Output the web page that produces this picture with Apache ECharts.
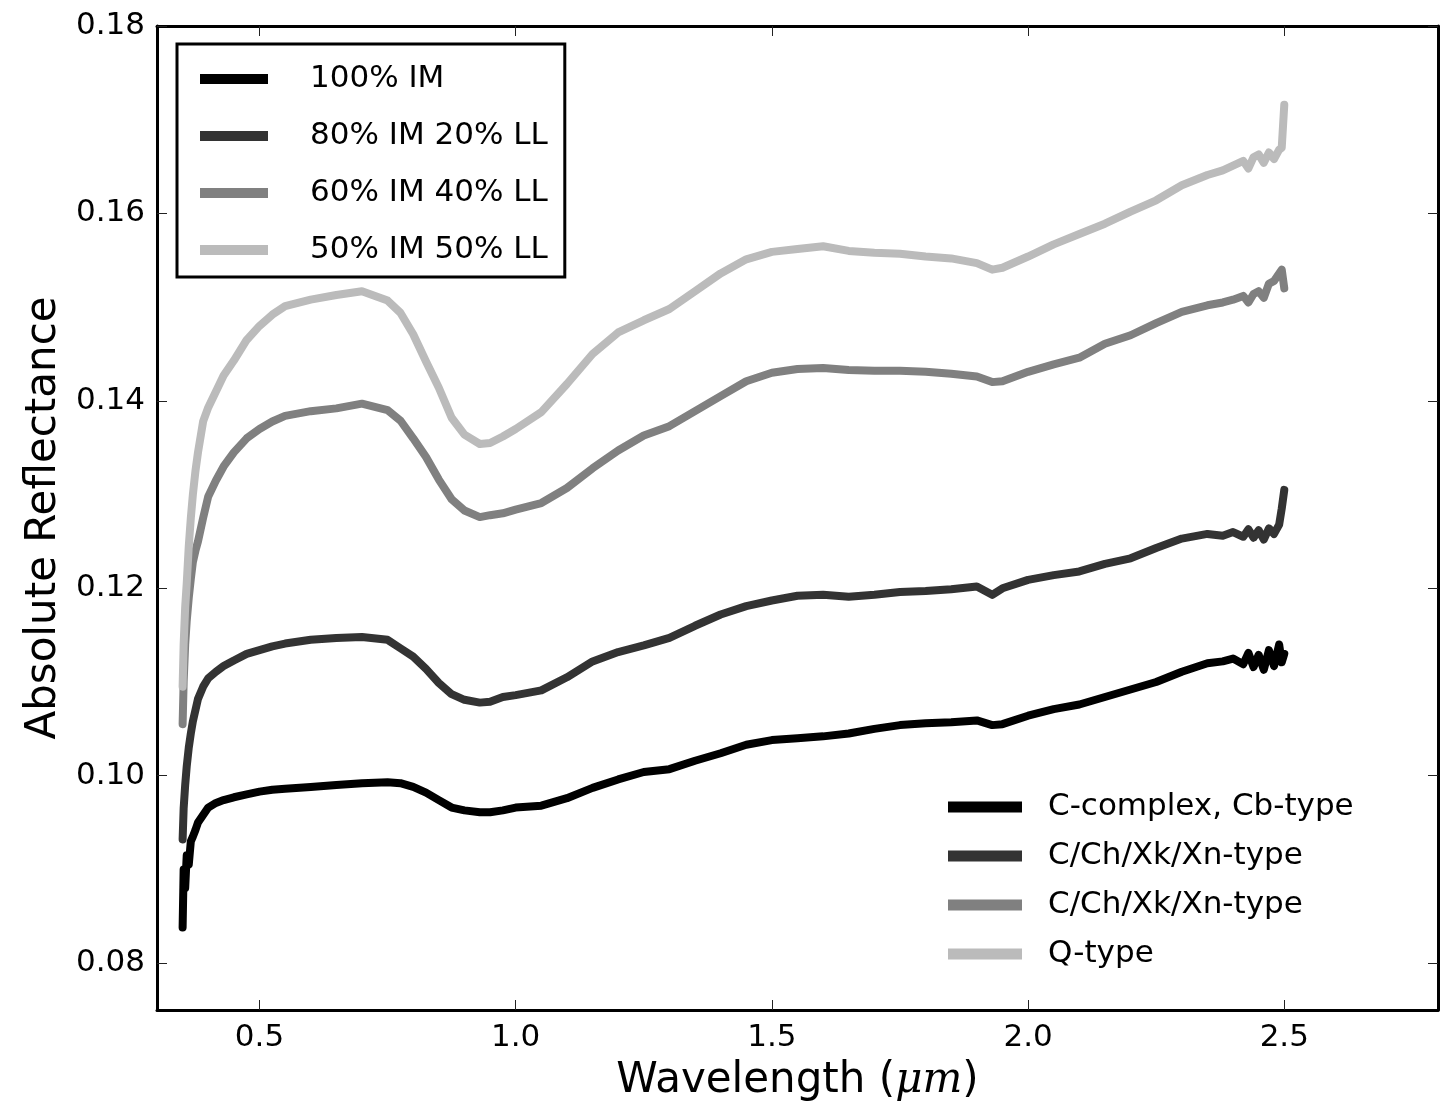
<!DOCTYPE html>
<html>
<head>
<meta charset="utf-8">
<script src="https://cdn.jsdelivr.net/npm/echarts@6/dist/echarts.min.js"></script>
<style>
  html, body { margin: 0; padding: 0; background: #fff; }
  #chart { width: 1449px; height: 1107px; }
</style>
</head>
<body>
<div id="chart"></div>
<script>
// wavelength (um)
var wavelength = [
  0.350, 0.352, 0.355, 0.358, 0.362, 0.366, 0.370, 0.375, 0.380, 0.390,
  0.400, 0.415, 0.430, 0.450, 0.475, 0.500, 0.525, 0.550, 0.600, 0.650,
  0.700, 0.750, 0.775, 0.800, 0.825, 0.850, 0.875, 0.900, 0.930, 0.950,
  0.975, 1.000, 1.050, 1.100, 1.150, 1.200, 1.250, 1.300, 1.350, 1.400,
  1.450, 1.500, 1.550, 1.600, 1.650, 1.700, 1.750, 1.800, 1.850, 1.900,
  1.930, 1.950, 2.000, 2.050, 2.100, 2.150, 2.200, 2.250, 2.300, 2.350,
  2.380, 2.400, 2.420, 2.430, 2.440, 2.450, 2.460, 2.470, 2.480, 2.490,
  2.495, 2.500
];
// 100% IM
var im100 = [
  0.0838, 0.0900, 0.0880, 0.0915, 0.0905, 0.0930, 0.0935, 0.0942, 0.0950, 0.0958,
  0.0966, 0.0971, 0.0974, 0.0977, 0.0980, 0.0983, 0.0985, 0.0986, 0.0988, 0.0990,
  0.0992, 0.0993, 0.0992, 0.0988, 0.0982, 0.0974, 0.0966, 0.0963, 0.0961, 0.0961,
  0.0963, 0.0966, 0.0968, 0.0976, 0.0987, 0.0996, 0.1004, 0.1007, 0.1016, 0.1024,
  0.1033, 0.1038, 0.1040, 0.1042, 0.1045, 0.1050, 0.1054, 0.1056, 0.1057, 0.1059,
  0.1054, 0.1055, 0.1064, 0.1071, 0.1076, 0.1084, 0.1092, 0.1100, 0.1111, 0.1120,
  0.1122, 0.1125, 0.1119, 0.1131, 0.1116, 0.1129, 0.1113, 0.1134, 0.1117, 0.1140,
  0.1121, 0.1130
];
// 80% IM 20% LL
var im80ll20 = [
  0.0932, 0.0965, 0.0990, 0.1010, 0.1030, 0.1045, 0.1058, 0.1070, 0.1082, 0.1095,
  0.1104, 0.1111, 0.1117, 0.1123, 0.1130, 0.1134, 0.1138, 0.1141, 0.1145, 0.1147,
  0.1148, 0.1145, 0.1136, 0.1127, 0.1114, 0.1099, 0.1087, 0.1081, 0.1078, 0.1079,
  0.1084, 0.1086, 0.1091, 0.1105, 0.1122, 0.1132, 0.1139, 0.1147, 0.1160, 0.1172,
  0.1181, 0.1187, 0.1192, 0.1193, 0.1191, 0.1193, 0.1196, 0.1197, 0.1199, 0.1202,
  0.1193, 0.1200, 0.1209, 0.1214, 0.1218, 0.1226, 0.1232, 0.1243, 0.1253, 0.1258,
  0.1256, 0.1260, 0.1255, 0.1263, 0.1254, 0.1262, 0.1252, 0.1264, 0.1258, 0.1268,
  0.1285, 0.1305
];
// 60% IM 40% LL
var im60ll40 = [
  0.1055, 0.1100, 0.1140, 0.1165, 0.1190, 0.1210, 0.1228, 0.1240, 0.1250, 0.1275,
  0.1298, 0.1315, 0.1330, 0.1345, 0.1360, 0.1370, 0.1378, 0.1384, 0.1389, 0.1392,
  0.1397, 0.1390, 0.1379, 0.1360, 0.1340, 0.1316, 0.1295, 0.1283, 0.1276, 0.1278,
  0.1280, 0.1284, 0.1291, 0.1307, 0.1328, 0.1347, 0.1363, 0.1373, 0.1389, 0.1405,
  0.1421, 0.1430, 0.1434, 0.1435, 0.1433, 0.1432, 0.1432, 0.1431, 0.1429, 0.1426,
  0.1420, 0.1421, 0.1431, 0.1439, 0.1446, 0.1461, 0.1470, 0.1483, 0.1495, 0.1502,
  0.1505, 0.1508, 0.1512, 0.1505, 0.1514, 0.1517, 0.1510, 0.1525, 0.1528, 0.1536,
  0.1540, 0.1520
];
// 50% IM 50% LL
var im50ll50 = [
  0.1095, 0.1140, 0.1180, 0.1205, 0.1245, 0.1275, 0.1300, 0.1325, 0.1345, 0.1378,
  0.1393, 0.1410, 0.1427, 0.1443, 0.1465, 0.1480, 0.1492, 0.1501, 0.1508, 0.1513,
  0.1517, 0.1507, 0.1494, 0.1471, 0.1442, 0.1414, 0.1382, 0.1364, 0.1354, 0.1355,
  0.1362, 0.1370, 0.1388, 0.1418, 0.1450, 0.1473, 0.1486, 0.1498, 0.1517, 0.1536,
  0.1551, 0.1559, 0.1562, 0.1565, 0.1560, 0.1558, 0.1557, 0.1554, 0.1552, 0.1547,
  0.1540, 0.1542, 0.1554, 0.1567, 0.1578, 0.1589, 0.1602, 0.1614, 0.1630, 0.1641,
  0.1646, 0.1651, 0.1656, 0.1648, 0.1660, 0.1663, 0.1654, 0.1665, 0.1658, 0.1668,
  0.1670, 0.1716
];

var mixNames = ['100% IM', '80% IM 20% LL', '60% IM 40% LL', '50% IM 50% LL'];
// second label is repeated in the figure; trailing nbsp keeps the names apart
var typeNames = ['C-complex, Cb-type', 'C/Ch/Xk/Xn-type', 'C/Ch/Xk/Xn-type\u00a0', 'Q-type'];
var colors = ['#000000', '#333333', '#808080', '#bbbbbb'];
var xTicks = [0.5, 1.0, 1.5, 2.0, 2.5];
var yTicks = [0.08, 0.10, 0.12, 0.14, 0.16, 0.18];

var font = 'DejaVu Sans';
var spectra = [im100, im80ll20, im60ll40, im50ll50];

var series = [];
spectra.forEach(function (vals, i) {
  series.push({
    name: mixNames[i],
    type: 'line',
    data: wavelength.map(function (w, k) { return [w, vals[k]]; }),
    symbol: 'none',
    itemStyle: { color: colors[i] },
    lineStyle: { color: colors[i], width: 8, join: 'round', cap: 'round' },
    z: 2 + i
  });
});
typeNames.forEach(function (n, i) {
  series.push({ name: n, type: 'line', data: [], symbol: 'none', itemStyle: { color: colors[i] }, lineStyle: { color: colors[i] } });
});

function frameAxis(pos, min, max, ticks, showLabel, fmt) {
  return {
    type: 'value',
    position: pos,
    min: min,
    max: max,
    splitLine: { show: false },
    axisLine: { show: true, onZero: false, lineStyle: { color: '#000', width: 3 } },
    axisTick: { show: true, inside: true, length: 10, customValues: ticks, lineStyle: { color: '#222', width: 1 } },
    axisLabel: { show: showLabel, customValues: ticks, formatter: fmt, fontFamily: font, fontSize: 31, color: '#000', margin: 12 }
  };
}

var xMain = frameAxis('bottom', 0.3, 2.8, xTicks, true, function (v) { return v.toFixed(1); });
xMain.name = 'Wavelength ({i|μm})';
xMain.nameLocation = 'middle';
xMain.nameGap = 50;
xMain.nameTextStyle = { fontFamily: font, fontSize: 42, color: '#000', rich: { i: { fontFamily: 'DejaVu Serif', fontStyle: 'italic', fontSize: 42 } } };

var yMain = frameAxis('left', 0.075, 0.18, yTicks, true, function (v) { return v.toFixed(2); });
yMain.name = 'Absolute Reflectance';
yMain.nameLocation = 'middle';
yMain.nameGap = 92;
yMain.nameTextStyle = { fontFamily: font, fontSize: 42, color: '#000' };

var option = {
  animation: false,
  backgroundColor: '#fff',
  grid: { left: 157, right: 11, top: 26, bottom: 92, containLabel: false },
  xAxis: [xMain, frameAxis('top', 0.3, 2.8, xTicks, false)],
  yAxis: [yMain, frameAxis('right', 0.075, 0.18, yTicks, false)],
  legend: [
    {
      data: mixNames,
      orient: 'vertical',
      left: 177,
      top: 44,
      padding: [19, 17, 11, 23],
      borderColor: '#000',
      borderWidth: 3,
      backgroundColor: '#fff',
      icon: 'rect',
      itemWidth: 68,
      itemHeight: 10,
      itemGap: 25,
      selectedMode: false,
      textStyle: { fontFamily: font, fontSize: 31, color: '#000', lineHeight: 32, padding: [0, 0, 0, 37] }
    },
    {
      data: typeNames,
      orient: 'vertical',
      left: 948,
      top: 791,
      padding: 0,
      icon: 'rect',
      itemWidth: 74,
      itemHeight: 11,
      itemGap: 17,
      selectedMode: false,
      textStyle: { fontFamily: font, fontSize: 31, color: '#000', lineHeight: 32, padding: [0, 0, 0, 21] }
    }
  ],
  series: series
};

var chart = echarts.init(document.getElementById('chart'));
chart.setOption(option);
</script>
</body>
</html>
